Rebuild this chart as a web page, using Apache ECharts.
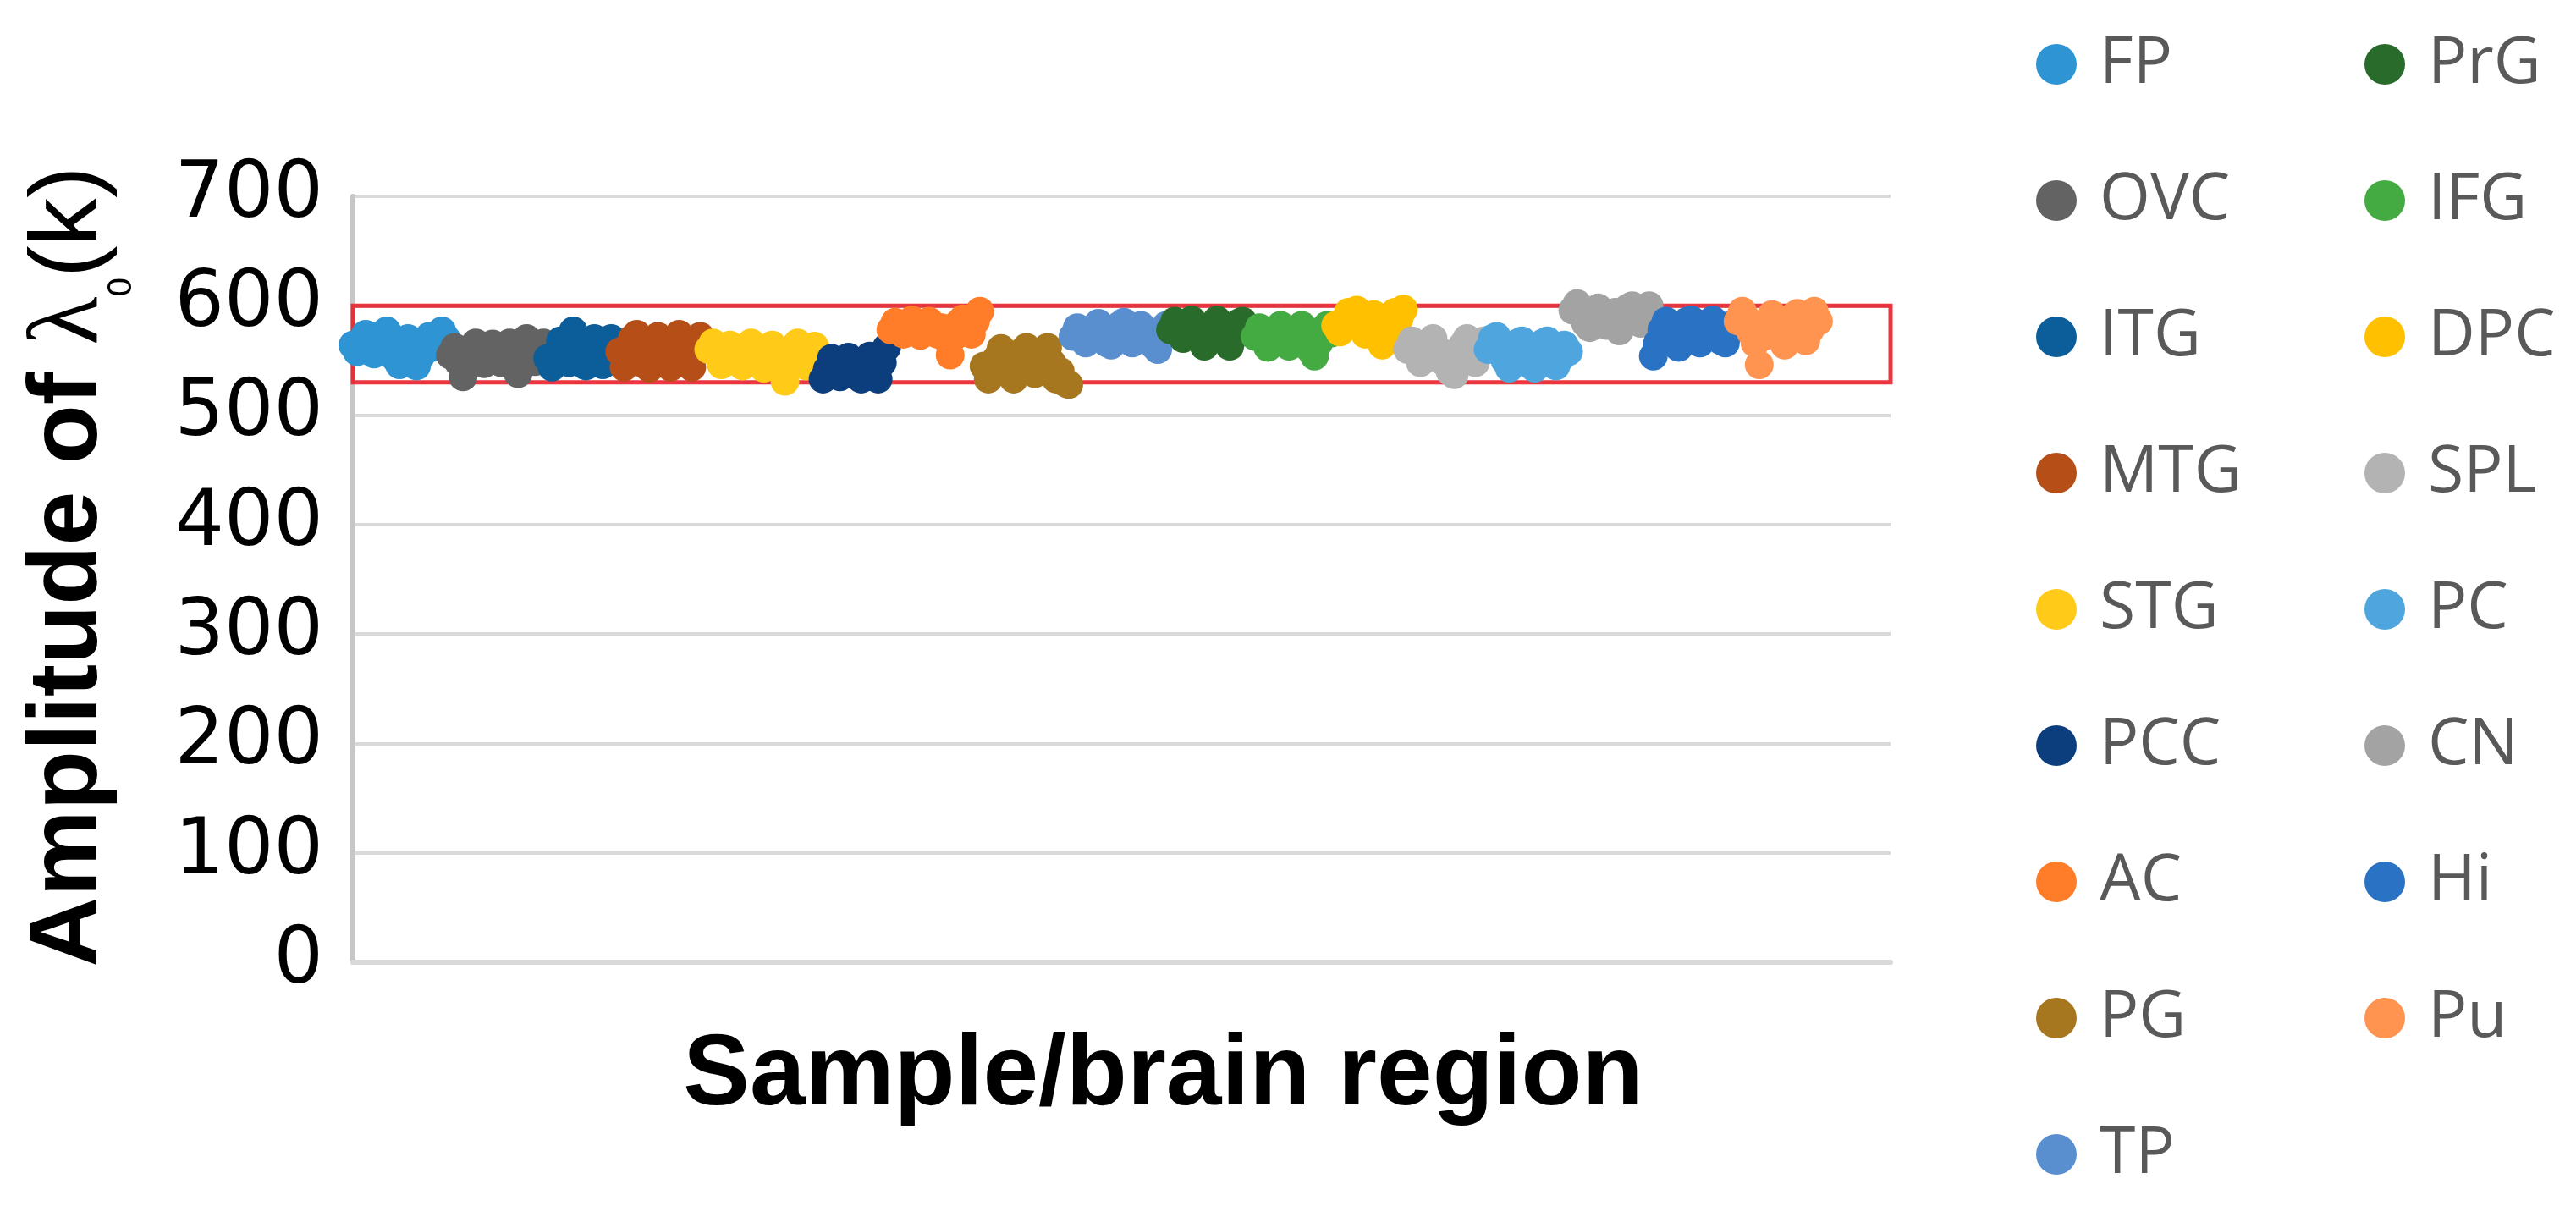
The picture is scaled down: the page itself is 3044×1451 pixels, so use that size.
<!DOCTYPE html>
<html>
<head>
<meta charset="utf-8">
<script src="https://cdn.jsdelivr.net/npm/echarts@6/dist/echarts.min.js"></script>
<style>
html,body{margin:0;padding:0;background:#fff;}
#chart{width:3044px;height:1451px;}
</style>
</head>
<body>
<div id="chart"></div>
<script>
// ---- data ----
const categories = ['FP','OVC','ITG','MTG','STG','PCC','AC','PG','TP','PrG','IFG','DPC','SPL','PC','CN','Hi','Pu'];
const colors = ['#2E94D4','#636363','#0B5E99','#B64E17','#FFCA18','#0C3E7D','#FF7D28','#A6771F','#5A8FCF','#296B2A','#44AA42','#FFC000','#B3B3B3','#4FA6DE','#A3A3A3','#2A72C3','#FF9350'];

const FP  = [564,558,566,574,565,556,563,574,577,566,552,546,556,570,560,545,554,568,572,562,566,577,570];
const OVC = [555,562,548,535,546,558,566,556,547,554,565,559,548,556,566,552,538,552,570,562,549,558,566];
const ITG = [552,544,556,568,560,548,577,566,552,545,558,570,562,546,556,570,560];
const MTG = [558,544,556,570,574,560,546,543,558,572,566,552,544,560,574,566,550,544,558,572,562];
const STG = [560,566,556,546,552,564,560,548,545,556,566,560,550,543,552,564,558,544,531,548,562,566,556,545,552,563,556];
const PCC = [533,542,552,546,535,540,553,548,538,533,544,554,540,533,548,562];
const AC  = [578,585,580,574,582,587,580,573,578,586,582,574,580,570,555,572,584,588,580,574,586,595];
const PG  = [545,533,540,552,561,555,542,533,546,558,562,550,538,544,556,562,548,533,540,530,528];
const TP  = [572,580,574,566,570,580,584,576,566,564,574,582,585,576,566,572,582,578,568,564,560,572,582];
const PrG = [578,586,580,570,576,587,580,570,563,572,582,587,578,568,563,572,584,586,576,580];
const IFG = [572,580,570,562,568,578,582,574,563,566,576,582,572,560,554,566,578,582,575];
const DPC = [582,576,586,594,588,596,584,574,580,592,586,564,574,586,594,588,597];
const SPL = [560,568,558,548,556,566,570,560,550,556,540,537,552,564,570,558,548,560,568];
const PC  = [560,570,572,562,550,543,552,566,568,556,546,543,554,566,568,556,545,552,564,558];
const CN  = [596,602,594,584,580,590,598,592,582,586,594,577,588,598,600,592,584,594,600];
const Hi  = [554,566,578,586,580,570,562,574,586,587,576,566,572,584,587,578,568,566,576,584];
const Pu  = [586,595,588,576,566,546,572,584,592,582,570,564,576,590,593,580,568,578,595,586];

const groups = [FP,OVC,ITG,MTG,STG,PCC,AC,PG,TP,PrG,IFG,DPC,SPL,PC,CN,Hi,Pu];
const yTicks = [0,100,200,300,400,500,600,700];
const xMin = 1, xMax = 364;        // sample index range
const boxLow = 530, boxHigh = 600; // highlighted band

// ---- build series ----
let sampleIdx = 1;
const series = categories.map((name, g) => {
  const data = groups[g].map(v => [sampleIdx++, v]);
  return {
    name: name,
    type: 'scatter',
    data: data,
    symbol: 'circle',
    symbolSize: 34,
    itemStyle: { color: colors[g], opacity: 1 },
    emphasis: { disabled: true },
    z: 2
  };
});
series.push({
  name: 'box',
  type: 'scatter',
  data: [],
  z: 5,
  silent: true,
  markArea: {
    silent: true,
    itemStyle: { color: 'rgba(0,0,0,0)', borderColor: '#E8202A', borderWidth: 5, opacity: 0.9 },
    data: [[{ xAxis: xMin, yAxis: boxLow }, { xAxis: xMax, yAxis: boxHigh }]]
  }
});

const legendBase = {
  orient: 'vertical',
  top: 31,
  itemWidth: 48,
  itemHeight: 48,
  itemGap: 81,
  icon: 'circle',
  selectedMode: false,
  textStyle: { fontFamily: 'Open Sans', fontSize: 77, color: '#595959', lineHeight: 80, padding: [0,0,0,22] }
};

const chart = echarts.init(document.getElementById('chart'));
chart.setOption({
  animation: false,
  backgroundColor: '#ffffff',
  grid: { left: 417, right: 810, top: 232, bottom: 314, containLabel: false },
  legend: [
    Object.assign({}, legendBase, { left: 2401, data: categories.slice(0, 9) }),
    Object.assign({}, legendBase, { left: 2789, data: categories.slice(9) })
  ],
  xAxis: {
    type: 'value',
    min: xMin,
    max: xMax,
    axisLine: { show: true, lineStyle: { color: '#D9D9D9', width: 6 } },
    axisTick: { show: false },
    axisLabel: { show: false },
    splitLine: { show: false },
    name: 'Sample/brain region',
    nameLocation: 'middle',
    nameGap: 76,
    nameTextStyle: { fontFamily: 'Liberation Sans', fontWeight: 'bold', fontSize: 118, color: '#000', padding: [0,0,0,98] }
  },
  yAxis: {
    type: 'value',
    min: yTicks[0],
    max: yTicks[yTicks.length - 1],
    interval: 100,
    axisLine: { show: true, lineStyle: { color: '#C6C6C6', width: 6 } },
    axisTick: { show: false },
    axisLabel: {
      fontFamily: 'DejaVu Sans', fontSize: 92, color: '#000', margin: 35,
      padding: [0,0,22,0],
      formatter: v => (yTicks.indexOf(v) >= 0 ? String(v) : '')
    },
    splitLine: { show: true, lineStyle: { color: '#D9D9D9', width: 4 } },
    name: '{a|Amplitude of }{l|λ}{s|0}{k|(k)}',
    nameLocation: 'middle',
    nameGap: 272,
    nameTextStyle: {
      padding: [0,0,0,30],
      rich: {
        a: { fontFamily: 'Liberation Sans', fontWeight: 'bold', fontSize: 115, color: '#000', lineHeight: 125 },
        l: { fontFamily: 'Liberation Serif', fontSize: 119, color: '#000', lineHeight: 125 },
        s: { fontFamily: 'Liberation Sans', fontSize: 40, color: '#000', lineHeight: 40, verticalAlign: 'top', padding: [104,0,0,0] },
        k: { fontFamily: 'Liberation Sans', fontSize: 113, color: '#000', lineHeight: 125 }
      }
    }
  },
  series: series
});
</script>
</body>
</html>
